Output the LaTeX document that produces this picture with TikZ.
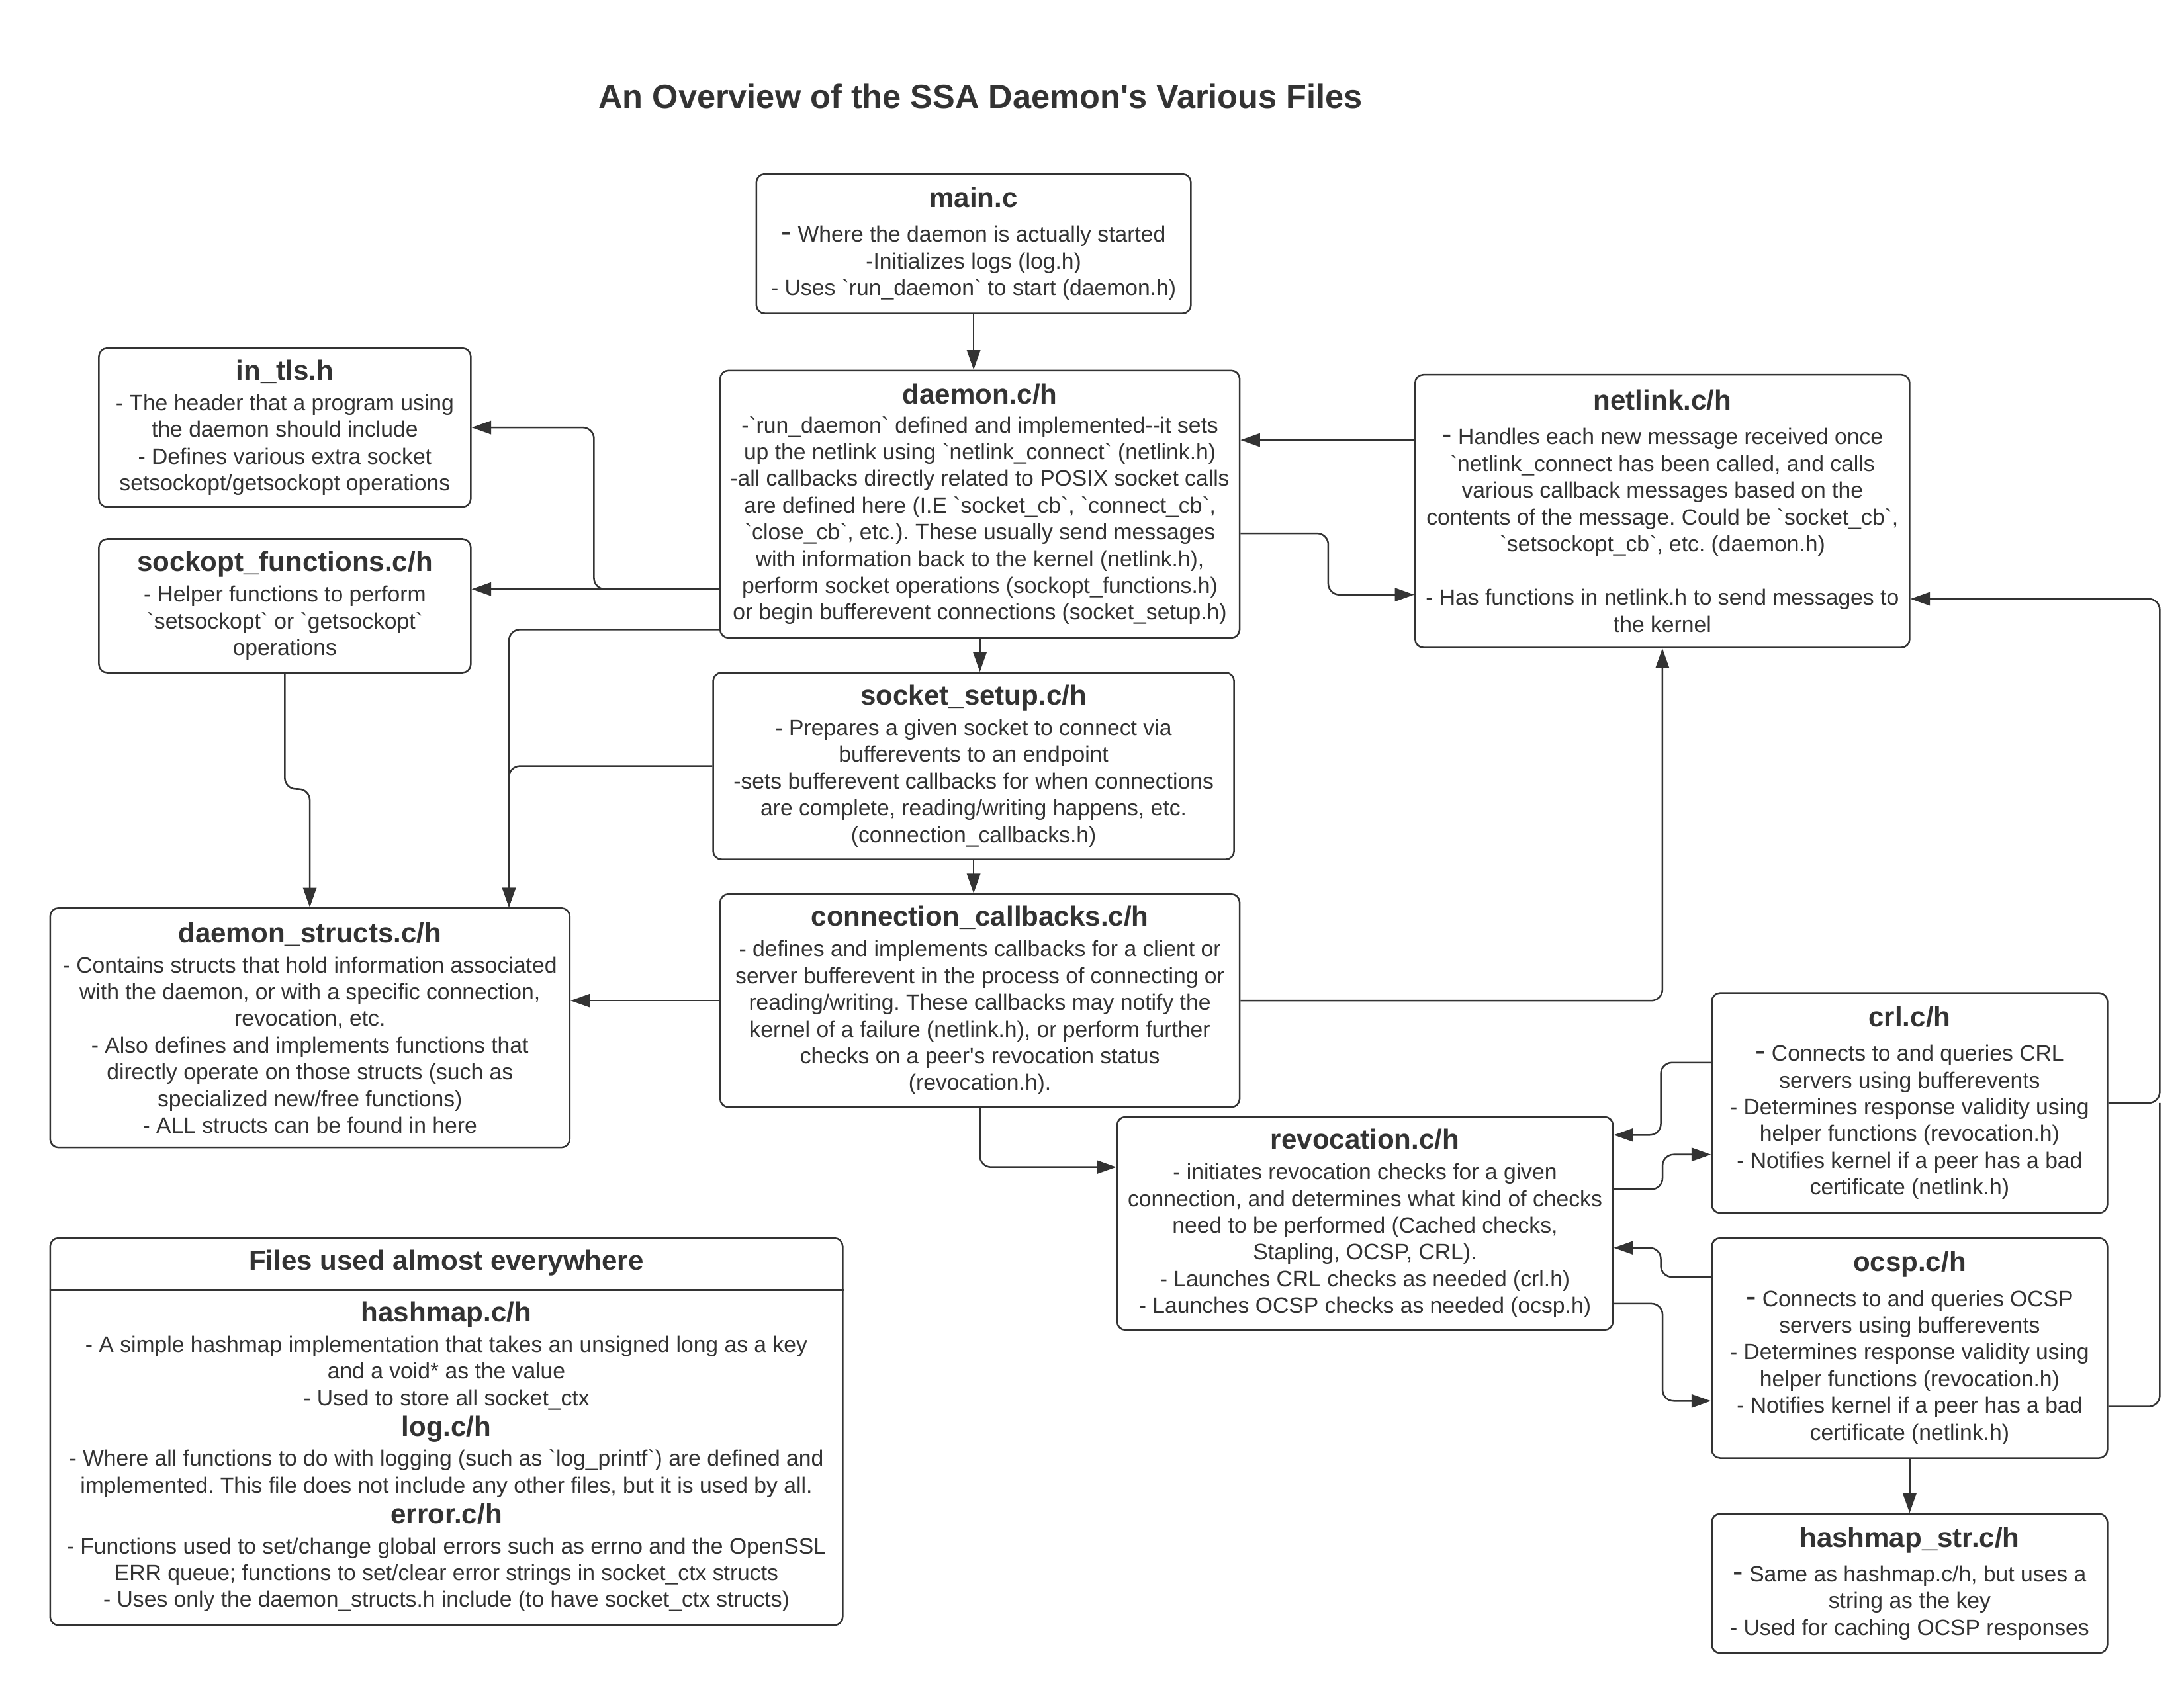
\documentclass[tikz,border=0pt]{standalone}
\usepackage{fontspec}
\setmainfont{Liberation Sans}[Ligatures=TeXOff]
\usetikzlibrary{arrows.meta,calc}
\definecolor{dk}{HTML}{333333}
\frenchspacing
\newcommand\bodyf{\fontsize{8}{9.6}\selectfont}
\newcommand\ttl[1]{{\fontsize{10}{12}\selectfont\bfseries #1}}
\newcommand\bdash{{\fontsize{11}{11}\selectfont -}}
\tikzset{
  box/.style={draw=dk, line width=0.6pt, rounded corners=3pt, align=center,
    inner sep=0pt, text=dk, font=\bodyf},
  conn/.style={draw=dk, line width=0.6pt, rounded corners=4pt,
    -{Triangle[length=7pt,width=4.8pt]}},
  plainline/.style={draw=dk, line width=0.6pt, rounded corners=4pt},
  txt/.style={align=center, inner sep=0pt, text=dk, font=\bodyf},
}
\begin{document}
\begin{tikzpicture}[x=0.5pt,y=-0.5pt]
\useasboundingbox (0,0) rectangle (1568,1212);
\fill[white] (0,0) rectangle (1568,1212);

\node[text=dk, font=\fontsize{12}{14}\selectfont\bfseries, inner sep=0pt] (title) at (704,69)
  {An Overview of the SSA Daemon's Various Files};

\node[box, minimum width=156pt, minimum height=50pt] (main) at (699,175)
  {\ttl{main.c}\\[2.8pt]
   \bdash{} Where the daemon is actually started\\
   -Initializes logs (log.h)\\
   - Uses `run\_daemon` to start (daemon.h)};

\node[box, minimum width=186.5pt, minimum height=96pt] (daemon) at (703.5,362)
  {\ttl{daemon.c/h}\\[0.8pt]
   -`run\_daemon` defined and implemented--it sets\\
   up the netlink using `netlink\_connect` (netlink.h)\\
   -all callbacks directly related to POSIX socket calls\\
   are defined here (I.E `socket\_cb`, `connect\_cb`,\\
   `close\_cb`, etc.). These usually send messages\\
   with information back to the kernel (netlink.h),\\
   perform socket operations (sockopt\_functions.h)\\
   or begin bufferevent connections (socket\_setup.h)};

\node[box, minimum width=133.5pt, minimum height=57pt] (intls) at (204.5,307)
  {\ttl{in\_tls.h}\\[1.3pt]
   - The header that a program using\\
   the daemon should include\\
   - Defines various extra socket\\
   setsockopt/getsockopt operations};

\node[box, minimum width=133.5pt, minimum height=48pt] (sockopt) at (204.5,435)
  {\ttl{sockopt\_functions.c/h}\\[1.3pt]
   - Helper functions to perform\\
   `setsockopt` or `getsockopt`\\
   operations};

\node[box, minimum width=177.5pt, minimum height=98pt] (netlink) at (1193.5,367)
  {\ttl{netlink.c/h}\\[2.8pt]
   \bdash{} Handles each new message received once\\
   `netlink\_connect has been called, and calls\\
   various callback messages based on the\\
   contents of the message. Could be `socket\_cb`,\\
   `setsockopt\_cb`, etc. (daemon.h)\\[9.7pt]
   - Has functions in netlink.h to send messages to\\
   the kernel};

\node[box, minimum width=187pt, minimum height=67pt] (socketsetup) at (699,550)
  {\ttl{socket\_setup.c/h}\\[1.3pt]
   - Prepares a given socket to connect via\\
   bufferevents to an endpoint\\
   -sets bufferevent callbacks for when connections\\
   are complete, reading/writing happens, etc.\\
   (connection\_callbacks.h)};

\node[box, minimum width=186.5pt, minimum height=76.5pt] (conncb) at (703.5,718.5)
  {\ttl{connection\_callbacks.c/h}\\[1.3pt]
   - defines and implements callbacks for a client or\\
   server bufferevent in the process of connecting or\\
   reading/writing. These callbacks may notify the\\
   kernel of a failure (netlink.h), or perform further\\
   checks on a peer's revocation status\\
   (revocation.h).};

\node[box, minimum width=186.5pt, minimum height=86pt] (dstructs) at (222.5,738)
  {\ttl{daemon\_structs.c/h}\\[1.3pt]
   - Contains structs that hold information associated\\
   with the daemon, or with a specific connection,\\
   revocation, etc.\\
   - Also defines and implements functions that\\
   directly operate on those structs (such as\\
   specialized new/free functions)\\
   - ALL structs can be found in here};

\node[box, minimum width=178pt, minimum height=76.5pt] (revocation) at (980,878.5)
  {\ttl{revocation.c/h}\\[1.3pt]
   - initiates revocation checks for a given\\
   connection, and determines what kind of checks\\
   need to be performed (Cached checks,\\
   Stapling, OCSP, CRL).\\
   - Launches CRL checks as needed (crl.h)\\
   - Launches OCSP checks as needed (ocsp.h)};

\node[box, minimum width=142pt, minimum height=79pt] (crl) at (1371,792)
  {\ttl{crl.c/h}\\[2.8pt]
   \bdash{} Connects to and queries CRL\\
   servers using bufferevents\\
   - Determines response validity using\\
   helper functions (revocation.h)\\
   - Notifies kernel if a peer has a bad\\
   certificate (netlink.h)};

\node[box, minimum width=142pt, minimum height=79pt] (ocsp) at (1371,968)
  {\ttl{ocsp.c/h}\\[2.8pt]
   \bdash{} Connects to and queries OCSP\\
   servers using bufferevents\\
   - Determines response validity using\\
   helper functions (revocation.h)\\
   - Notifies kernel if a peer has a bad\\
   certificate (netlink.h)};

\node[box, minimum width=142pt, minimum height=50pt] (hashstr) at (1371,1137)
  {\ttl{hashmap\_str.c/h}\\[2.8pt]
   \bdash{} Same as hashmap.c/h, but uses a\\
   string as the key\\
   - Used for caching OCSP responses};

\node[box, minimum width=284.5pt, minimum height=139pt] (files) at (320.5,1028) {};
\draw[dk, line width=0.6pt] ($(files.north west)+(0,38)$) coordinate (fdl) -- (fdl -| files.east);
\node[txt] (fileshead) at (320.5,907) {\ttl{Files used almost everywhere}};
\node[txt] (filesbody) at (320.5,1046)
  {\ttl{hashmap.c/h}\\[1.3pt]
   - A simple hashmap implementation that takes an unsigned long as a key\\
   and a void* as the value\\
   - Used to store all socket\_ctx\\[1.3pt]
   \ttl{log.c/h}\\[1.3pt]
   - Where all functions to do with logging (such as `log\_printf`) are defined and\\
   implemented. This file does not include any other files, but it is used by all.\\[1.3pt]
   \ttl{error.c/h}\\[1.3pt]
   - Functions used to set/change global errors such as errno and the OpenSSL\\
   ERR queue; functions to set/clear error strings in socket\_ctx structs\\
   - Uses only the daemon\_structs.h include (to have socket\_ctx structs)};

% connectors
\draw[conn] (main.south) -- (main.south |- daemon.north);
\draw[conn] ($(netlink.west)+(0,-51)$) coordinate (nA) -- (daemon.east |- nA);
\draw[conn] ($(daemon.east)+(0,21)$) -- ++(63,0) |- ($(netlink.west)+(0,60)$);
\draw[conn] ($(daemon.west)+(0,61)$) coordinate (dA) -- ++(-90,0) |- (intls.east);
\draw[conn] (dA) -- (sockopt.east |- dA);
\coordinate (dsin) at ($(dstructs.north west)+(330,0)$);
\draw[conn] ($(daemon.west)+(0,90)$) -| (dsin);
\draw[conn] (socketsetup.west) -| (dsin);
\draw[conn] (sockopt.south) -- ++(0,83) -| ($(dstructs.north west)+(187,0)$);
\draw[conn] (daemon.south) -- (daemon.south |- socketsetup.north);
\draw[conn] (socketsetup.south) -- (socketsetup.south |- conncb.north);
\draw[conn] (conncb.west) -- (dstructs.east |- conncb.west);
\draw[conn] (conncb.east) -| (netlink.south);
\draw[conn] (conncb.south) |- ($(revocation.west)+(0,-40.5)$);
\draw[conn] ($(crl.west)+(0,-29)$) -- ++(-36,0) |- ($(revocation.east)+(0,-63.5)$);
\draw[conn] ($(revocation.east)+(0,-24.5)$) -- ++(35,0) |- ($(crl.west)+(0,37)$);
\draw[conn] ($(ocsp.west)+(0,-51)$) -- ++(-36,0) |- ($(revocation.east)+(0,17.5)$);
\draw[conn] ($(revocation.east)+(0,57.5)$) -- ++(35,0) |- ($(ocsp.west)+(0,38)$);
\draw[conn] (crl.east) -- ++(37,0) |- ($(netlink.east)+(0,63)$);
\draw[plainline] ($(ocsp.east)+(0,42)$) -| ($(crl.east)+(37,0)$);
\draw[conn] (ocsp.south) -- (hashstr.north);
\end{tikzpicture}
\end{document}
